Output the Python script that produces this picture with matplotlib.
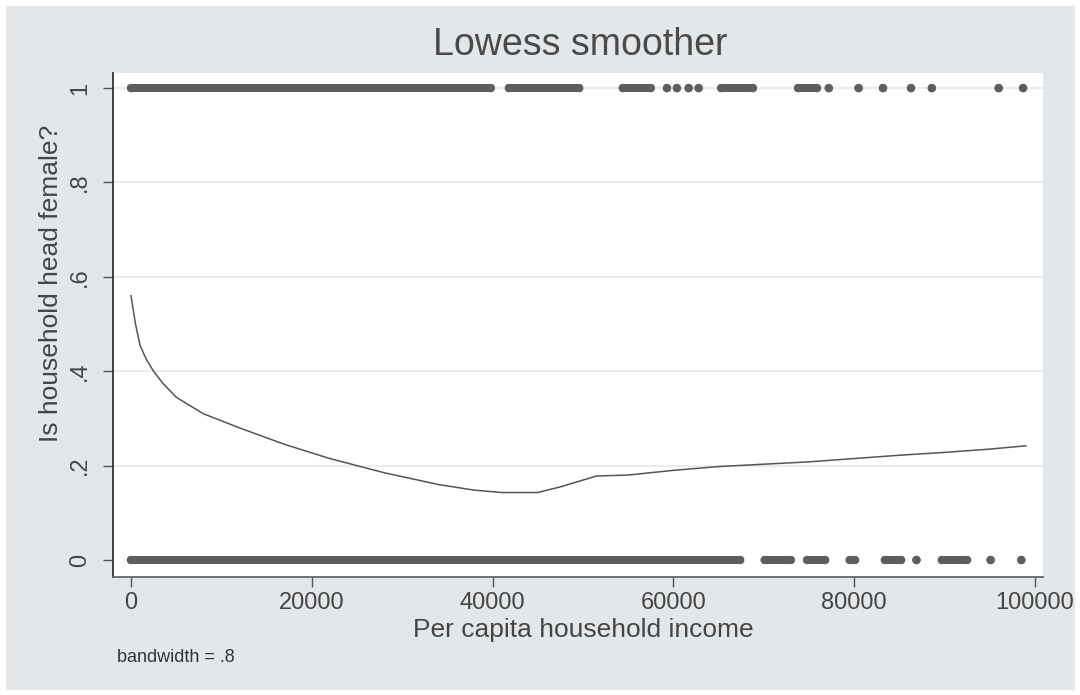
import matplotlib
matplotlib.use("Agg")
import matplotlib.pyplot as plt
from matplotlib.patches import Rectangle

plt.rcParams['font.family'] = ['Liberation Sans', 'DejaVu Sans']

# lowess fit (income, share of female heads)
fit_x = [0, 500, 1000, 1700, 2500, 3500, 5000, 8000, 12000, 17000, 22000, 28000,
         34000, 38000, 41000, 45000, 47500, 51500, 55000, 60000, 65000, 70000,
         75000, 80000, 85000, 90000, 95000, 99000]
fit_y = [0.56, 0.50, 0.455, 0.425, 0.40, 0.375, 0.345, 0.31, 0.28, 0.245, 0.215,
         0.185, 0.16, 0.148, 0.143, 0.143, 0.155, 0.178, 0.180, 0.19, 0.198,
         0.203, 0.208, 0.215, 0.222, 0.228, 0.235, 0.242]

# observations: runs of overlapping markers (start, end) in income
female_start = [0, 41800, 54400, 59300, 60400, 61700, 62800, 65300, 73800, 77200,
                80500, 83200, 86300, 88600, 96000, 98700]
female_end = [39800, 49600, 57500, 59300, 60400, 61700, 62800, 68800, 75900, 77200,
              80500, 83200, 86300, 88600, 96000, 98700]
male_start = [0, 70100, 74800, 79500, 83400, 86900, 89700, 95100, 98500]
male_end = [67400, 73000, 76800, 80100, 85200, 86900, 92500, 95100, 98500]

y_ticks = [0, 0.2, 0.4, 0.6, 0.8, 1]
y_ticklabels = ["0", ".2", ".4", ".6", ".8", "1"]
x_ticks = [0, 20000, 40000, 60000, 80000, 100000]

bg = "#e4e7ea"
dot = "#5e5e5e"
txt = "#454545"

fig = plt.figure(figsize=(10.8, 6.95), dpi=100, facecolor=bg)
# thin white frame like the original export
fig.patches.append(Rectangle((0, 0), 1, 1, transform=fig.transFigure, fill=False,
                             edgecolor="white", linewidth=8, zorder=-1))

ax = fig.add_axes([113/1080, 1-577/695, 930/1080, 504/695])
ax.set_facecolor("white")

for y in y_ticks[1:]:
    ax.axhline(y, color="#ebebeb", lw=1.5, zorder=0)

for starts, ends, yy in [(female_start, female_end, 1), (male_start, male_end, 0)]:
    for a, b in zip(starts, ends):
        ax.plot([a, b], [yy, yy], color=dot, lw=5.8, solid_capstyle="round", zorder=2)
    ax.scatter(starts + ends, [yy] * (len(starts) + len(ends)), s=36, color=dot,
               edgecolors="none", zorder=2)

ax.plot(fit_x, fit_y, color="#555555", lw=1.1, zorder=3)

ax.set_xlim(-1990, 100900)
ax.set_ylim(-0.036, 1.032)
ax.set_xticks(x_ticks)
ax.set_xticklabels([str(v) for v in x_ticks])
ax.set_yticks(y_ticks)
ax.set_yticklabels(y_ticklabels, rotation=90, va="center")

for s in ["top", "right"]:
    ax.spines[s].set_visible(False)
ax.spines["left"].set_color("#333333")
ax.spines["bottom"].set_color("#666666")
ax.spines["left"].set_linewidth(1.3)
ax.spines["bottom"].set_linewidth(1.3)

ax.tick_params(axis="both", colors="#555555", labelcolor=txt, labelsize=17,
               length=7, width=1)
ax.tick_params(axis="y", pad=9)
ax.tick_params(axis="x", pad=4)

fig.text(580/1080, 1-45/695, "Lowess smoother", ha="center", va="center",
         fontsize=27, color="#4a4a4a")
fig.text(583/1080, 1-630/695, "Per capita household income", ha="center",
         va="center", fontsize=19, color=txt)
fig.text(51/1080, 1-283/695, "Is household head female?", ha="center",
         va="center", rotation=90, fontsize=19, color=txt)
fig.text(117/1080, 1-657/695, "bandwidth = .8", ha="left", va="center",
         fontsize=13, color="#333333")

fig.savefig("out.png", dpi=100, facecolor=bg)
